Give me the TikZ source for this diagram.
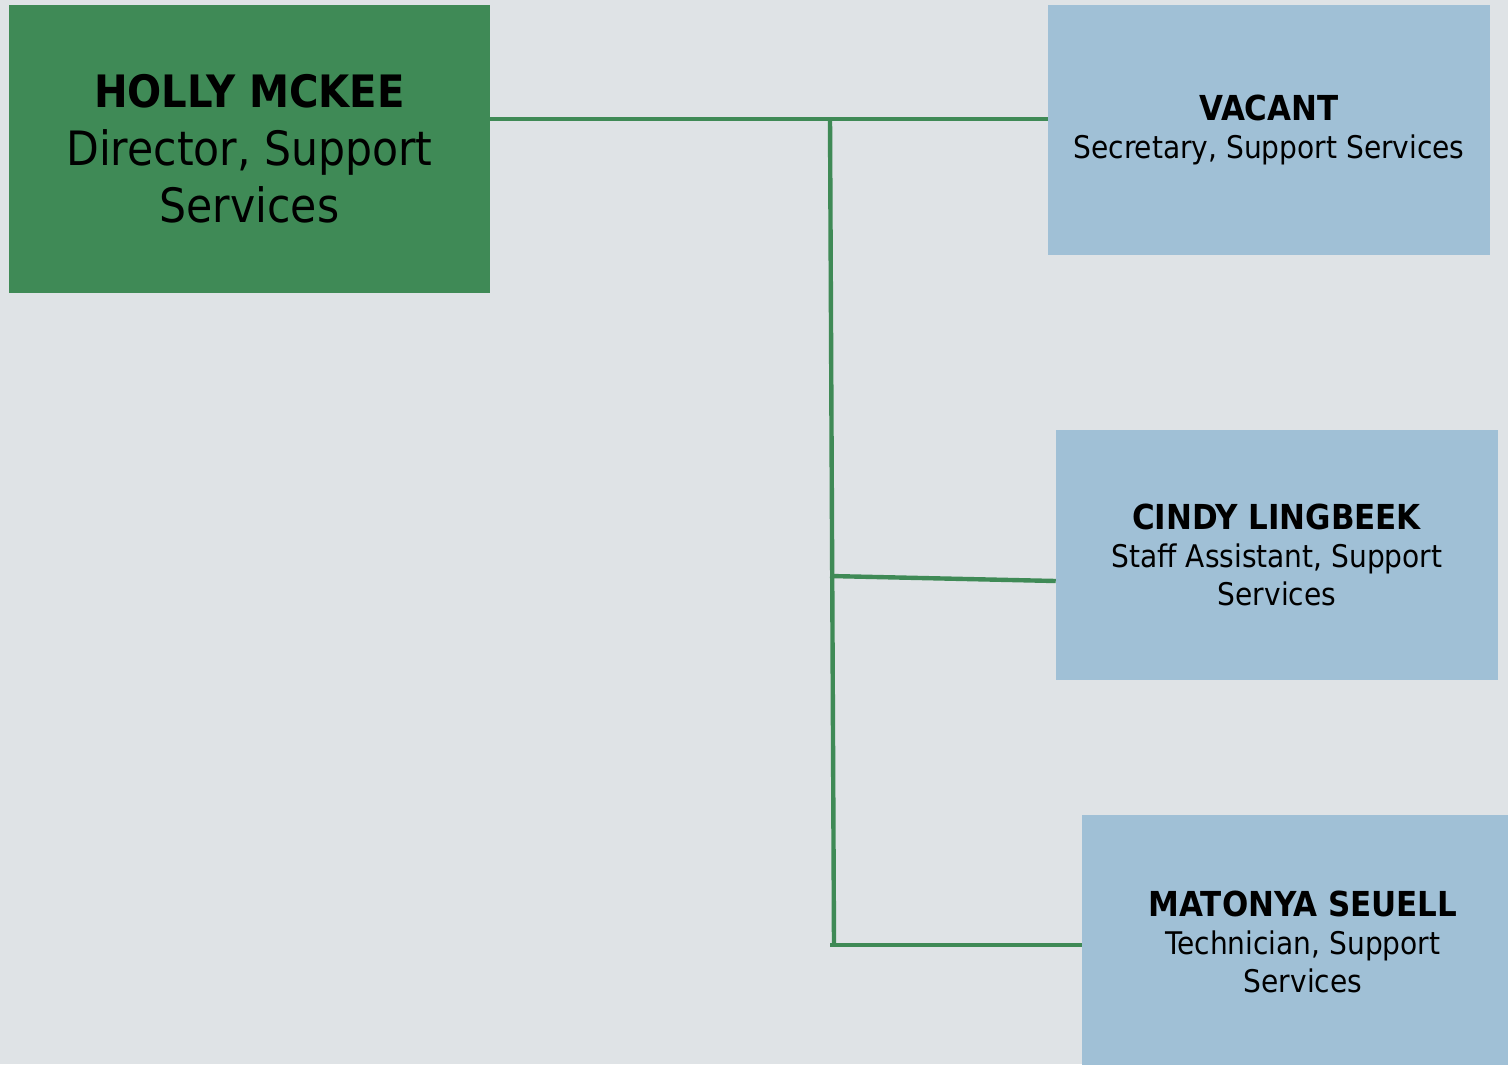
\documentclass[tikz,border=0pt]{standalone}
\usepackage{fontspec}
\setmainfont{DejaVu Sans Condensed}
\definecolor{bg}{HTML}{DFE3E6}
\definecolor{grn}{HTML}{3F8A56}
\definecolor{blu}{HTML}{A0C0D6}
\begin{document}
\begin{tikzpicture}[x=0.75pt,y=-0.75pt,
  topbox/.style={fill=grn,draw=none,align=center,inner sep=0pt,
    font=\fontsize{35.5}{43}\selectfont},
  subbox/.style={fill=blu,draw=none,align=center,inner sep=0pt,
    font=\fontsize{23.4}{28.5}\selectfont},
  link/.style={draw=grn,line width=3.3pt}]
\useasboundingbox (0,0) rectangle (1508,1064);
\fill[bg] (0,0) rectangle (1508,1064);
\begin{scope}
\clip (0,0) rectangle (1508,1064);
\node[topbox,minimum width=481*0.75pt,minimum height=288*0.75pt] (holly) at (249.5,149)
  {\textbf{\fontsize{33.5}{43}\selectfont HOLLY MCKEE}\\Director, Support\\Services};
\node[subbox,minimum width=442*0.75pt,minimum height=250*0.75pt] (vacant) at (1269,130)
  {\textbf{\fontsize{25.8}{28.5}\selectfont VACANT}\\Secretary, Support Services};
\node[subbox,minimum width=442*0.75pt,minimum height=250*0.75pt] (cindy) at (1277,555)
  {\textbf{\fontsize{25.8}{28.5}\selectfont CINDY LINGBEEK}\\Staff Assistant, Support\\Services};
\node[subbox,minimum width=442*0.75pt,minimum height=254*0.75pt] (matonya) at (1303,942)
  {\textbf{\fontsize{25.8}{28.5}\selectfont MATONYA SEUELL}\\Technician, Support\\Services};
\end{scope}
\coordinate (j1) at (830,119);
\coordinate (j2) at (832,576);
\coordinate (j3) at (834,945);
\draw[link] (holly.east |- j1) -- (vacant.west |- j1);
\draw[link] (j1) -- (j3);
\draw[link] (830,576) -- (cindy.west |- 0,581);
\draw[link] (830,945) -- (matonya.west |- j3);
\end{tikzpicture}
\end{document}
